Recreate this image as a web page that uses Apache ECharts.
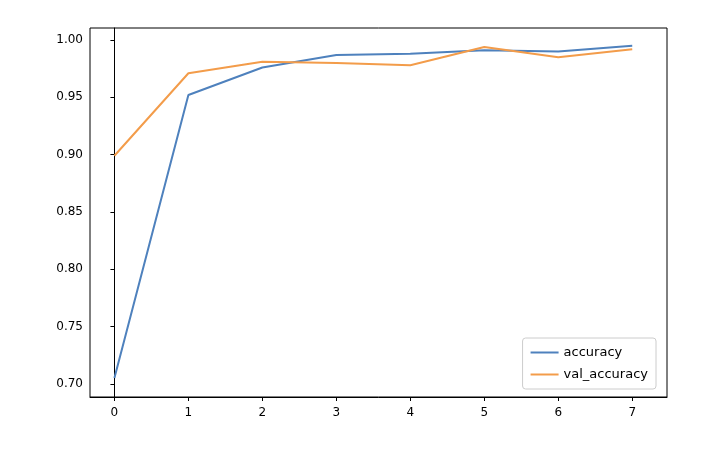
<!DOCTYPE html>
<html><head><meta charset="utf-8">
<script src="https://cdn.jsdelivr.net/npm/echarts@6/dist/echarts.min.js"></script>
<style>html,body{margin:0;background:#fff}#c{width:704px;height:452px}</style>
</head><body><div id="c"></div>
<script>
const epochs=[0,1,2,3,4,5,6,7];
const accuracy=[0.705,0.952,0.976,0.987,0.988,0.991,0.990,0.995];
const valAccuracy=[0.899,0.971,0.981,0.980,0.978,0.994,0.985,0.992];
const yTicks=[0.70,0.75,0.80,0.85,0.90,0.95,1.00];
const chart=echarts.init(document.getElementById('c'));
const font={fontFamily:'DejaVu Sans',fontSize:12,color:'#000'};
chart.setOption({
 animation:false,
 grid:{left:90,right:37,top:28,bottom:55,show:true,borderColor:'#000',borderWidth:1},
 xAxis:{type:'value',min:-0.33,max:7.47,
  axisLine:{show:true,lineStyle:{color:'#000'}},splitLine:{show:false},
  axisTick:{show:true,length:4,lineStyle:{color:'#000'},customValues:epochs},
  axisLabel:Object.assign({customValues:epochs,margin:10,formatter:v=>String(v)},font)},
 yAxis:{type:'value',min:0.6885,max:1.0105,
  axisLine:{show:true,lineStyle:{color:'#000'}},splitLine:{show:false},
  axisTick:{show:true,length:4,lineStyle:{color:'#000'},customValues:yTicks},
  axisLabel:Object.assign({customValues:yTicks,margin:7,formatter:v=>v.toFixed(2)},font)},
 legend:{right:48,bottom:63,orient:'vertical',itemWidth:28,itemHeight:2,itemGap:9,
  padding:[8,8,8,8],borderColor:'#ccc',borderWidth:1,borderRadius:3,backgroundColor:'#fff',
  textStyle:Object.assign({},font,{fontSize:13}),icon:'rect',
  data:['accuracy','val_accuracy']},
 series:[
  {name:'accuracy',type:'line',data:epochs.map((e,i)=>[e,accuracy[i]]),showSymbol:false,
   lineStyle:{color:'#4e81bd',width:2},itemStyle:{color:'#4e81bd'}},
  {name:'val_accuracy',type:'line',data:epochs.map((e,i)=>[e,valAccuracy[i]]),showSymbol:false,
   lineStyle:{color:'#f39c4a',width:2},itemStyle:{color:'#f39c4a'}}
 ]
});
</script></body></html>
